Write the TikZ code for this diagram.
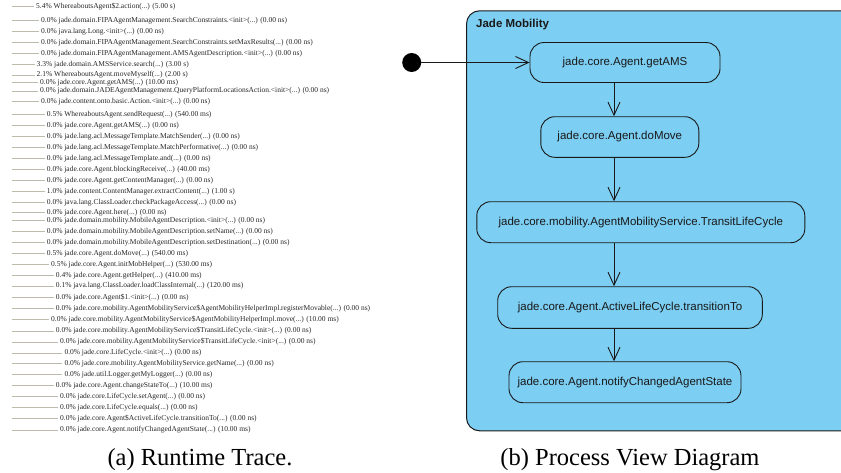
\documentclass[tikz,border=0pt]{standalone}
\usepackage{fontspec}
\setmainfont{Liberation Serif}
\newfontfamily\arialfam{Liberation Sans}
\usetikzlibrary{arrows.meta}
\definecolor{jadeblue}{RGB}{124,206,243}
\definecolor{tracegray}{RGB}{190,186,172}
\definecolor{ink}{RGB}{25,25,25}
\newcommand{\ellp}{(...)}
\begin{document}
\begin{tikzpicture}[x=1pt,y=-1pt,
  trace/.style={font=\fontsize{7.5}{9}\selectfont, text=black!85, inner xsep=2pt, inner ysep=0pt, anchor=west},
  tline/.style={draw=tracegray, line width=0.8pt},
  frame/.style={draw=ink, line width=1pt, fill=jadeblue, rounded corners=13pt},
  act/.style={draw=ink, line width=0.9pt, fill=jadeblue, rounded corners=14pt, font=\arialfam\fontsize{11.5}{13}\selectfont, text=ink, inner sep=0pt},
  flow/.style={draw=ink, line width=0.9pt, -{Straight Barb[length=13pt,width=12pt,line width=0.9pt]}},
  captext/.style={font=\fontsize{24.5}{28}\selectfont, anchor=base, inner sep=0pt}
]
\useasboundingbox (0,0) rectangle (841,472);
\clip (0,0) rectangle (841,472);

% ---------- (a) runtime trace ----------
\foreach \yy/\xx/\txt [count=\i] in {
 6.7/36/5.4\% WhereaboutsAgent\$2.action\ellp{} (5.00 s),
 20.7/41/0.0\% jade.domain.FIPAAgentManagement.SearchConstraints.<init>\ellp{} (0.00 ns),
 31.3/41/0.0\% java.lang.Long.<init>\ellp{} (0.00 ns),
 42.3/41/0.0\% jade.domain.FIPAAgentManagement.SearchConstraints.setMaxResults\ellp{} (0.00 ns),
 53.3/41/0.0\% jade.domain.FIPAAgentManagement.AMSAgentDescription.<init>\ellp{} (0.00 ns),
 64.3/36.5/3.3\% jade.domain.AMSService.search\ellp{} (3.00 s),
 75/36.5/2.1\% WhereaboutsAgent.moveMyself\ellp{} (2.00 s),
 82.7/40/0.0\% jade.core.Agent.getAMS\ellp{} (10.00 ms),
 91/40/0.0\% jade.domain.JADEAgentManagement.QueryPlatformLocationsAction.<init>\ellp{} (0.00 ns),
 101.7/41/0.0\% jade.content.onto.basic.Action.<init>\ellp{} (0.00 ns),
 114.3/46.7/0.5\% WhereaboutsAgent.sendRequest\ellp{} (540.00 ms),
 125.7/46.7/0.0\% jade.core.Agent.getAMS\ellp{} (0.00 ns),
 136.7/46.7/0.0\% jade.lang.acl.MessageTemplate.MatchSender\ellp{} (0.00 ns),
 147.7/46.7/0.0\% jade.lang.acl.MessageTemplate.MatchPerformative\ellp{} (0.00 ns),
 158.3/46.7/0.0\% jade.lang.acl.MessageTemplate.and\ellp{} (0.00 ns),
 169.3/46.7/0.0\% jade.core.Agent.blockingReceive\ellp{} (40.00 ms),
 180.3/46.7/0.0\% jade.core.Agent.getContentManager\ellp{} (0.00 ns),
 191.7/46.7/1.0\% jade.content.ContentManager.extractContent\ellp{} (1.00 s),
 202.7/46.7/0.0\% java.lang.ClassLoader.checkPackageAccess\ellp{} (0.00 ns),
 212.5/46.7/0.0\% jade.core.Agent.here\ellp{} (0.00 ns),
 220.7/46.7/0.0\% jade.domain.mobility.MobileAgentDescription.<init>\ellp{} (0.00 ns),
 231.7/46.7/0.0\% jade.domain.mobility.MobileAgentDescription.setName\ellp{} (0.00 ns),
 242.3/46.7/0.0\% jade.domain.mobility.MobileAgentDescription.setDestination\ellp{} (0.00 ns),
 253.3/46.7/0.5\% jade.core.Agent.doMove\ellp{} (540.00 ms),
 264.3/51/0.5\% jade.core.Agent.initMobHelper\ellp{} (530.00 ms),
 275.3/55.7/0.4\% jade.core.Agent.getHelper\ellp{} (410.00 ms),
 286/55.7/0.1\% java.lang.ClassLoader.loadClassInternal\ellp{} (120.00 ms),
 297.3/55.7/0.0\% jade.core.Agent\$1.<init>\ellp{} (0.00 ns),
 308.3/55.7/0.0\% jade.core.mobility.AgentMobilityService\$AgentMobilityHelperImpl.registerMovable\ellp{} (0.00 ns),
 319.5/51/0.0\% jade.core.mobility.AgentMobilityService\$AgentMobilityHelperImpl.move\ellp{} (10.00 ms),
 331/55.7/0.0\% jade.core.mobility.AgentMobilityService\$TransitLifeCycle.<init>\ellp{} (0.00 ns),
 342/60/0.0\% jade.core.mobility.AgentMobilityService\$TransitLifeCycle.<init>\ellp{} (0.00 ns),
 353/64.3/0.0\% jade.core.LifeCycle.<init>\ellp{} (0.00 ns),
 363.7/64.3/0.0\% jade.core.mobility.AgentMobilityService.getName\ellp{} (0.00 ns),
 374.7/64.3/0.0\% jade.util.Logger.getMyLogger\ellp{} (0.00 ns),
 385.7/55.7/0.0\% jade.core.Agent.changeStateTo\ellp{} (10.00 ms),
 396.7/60/0.0\% jade.core.LifeCycle.setAgent\ellp{} (0.00 ns),
 407.7/60/0.0\% jade.core.LifeCycle.equals\ellp{} (0.00 ns),
 418.7/60/0.0\% jade.core.Agent\$ActiveLifeCycle.transitionTo\ellp{} (0.00 ns),
 430/60/0.0\% jade.core.Agent.notifyChangedAgentState\ellp{} (10.00 ms)}
{
  \coordinate (s\i) at (12,\yy);
  \node[trace] (t\i) at (\xx-2,\yy) {\txt};
  \draw[tline] (s\i) -- (t\i.west);
}

% ---------- (b) process view ----------
\node[frame, anchor=north west, minimum width=420pt, minimum height=420pt] (box) at (466,10.3) {};
\node[anchor=west, inner sep=0pt, font=\arialfam\bfseries\fontsize{11.5}{13}\selectfont, text=ink] (title) at (476,25) {Jade Mobility};

\node[circle, fill=black, minimum size=19pt, inner sep=0pt] (start) at (411.7,62.5) {};
\node[act, minimum width=190pt, minimum height=40pt] (n1) at (625,62.5) {jade.core.Agent.getAMS};
\node[act, minimum width=158pt, minimum height=40.6pt] (n2) at (619.8,137) {jade.core.Agent.doMove};
\node[act, minimum width=328pt, minimum height=41pt] (n3) at (640.8,222.2) {jade.core.mobility.AgentMobilityService.TransitLifeCycle};
\node[act, minimum width=264.6pt, minimum height=41.6pt] (n4) at (630,307.5) {jade.core.Agent.ActiveLifeCycle.transitionTo};
\node[act, minimum width=232pt, minimum height=41pt] (n5) at (625,382.2) {jade.core.Agent.notifyChangedAgentState};

\coordinate (ax) at (614,0);
\draw[flow] (start) -- (n1.west);
\draw[flow] (n1.south -| ax) -- (n2.north -| ax);
\draw[flow] (n2.south -| ax) -- (n3.north -| ax);
\draw[flow] (n3.south -| ax) -- (n4.north -| ax);
\draw[flow] (n4.south -| ax) -- (n5.north -| ax);

% ---------- captions ----------
\node[captext] (capa) at (200,465) {(a) Runtime Trace.};
\node[captext] (capb) at (630,465) {(b) Process View Diagram};
\end{tikzpicture}
\end{document}
